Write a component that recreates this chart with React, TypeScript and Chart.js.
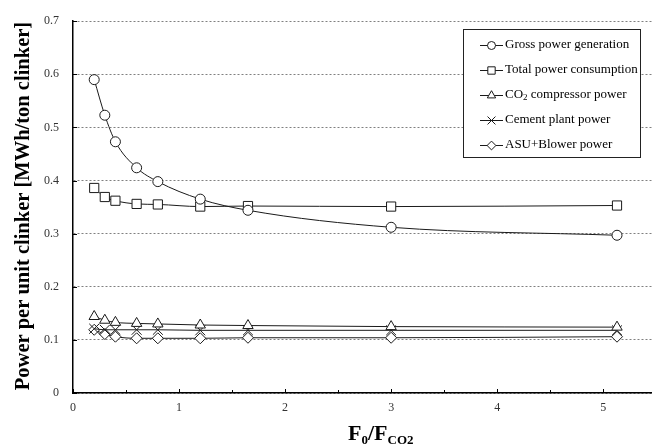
import React, { useEffect, useRef } from 'react';
import { Chart, registerables } from 'chart.js';

Chart.register(...registerables);

// ---- data ----
const xValues = [0.2, 0.3, 0.4, 0.6, 0.8, 1.2, 1.65, 3.0, 5.13];
const grossPower = [0.59, 0.523, 0.473, 0.424, 0.398, 0.365, 0.344, 0.312, 0.297];
const totalConsumption = [0.386, 0.369, 0.362, 0.356, 0.355, 0.351, 0.352, 0.351, 0.353];
const co2Compressor = [0.144, 0.137, 0.133, 0.131, 0.13, 0.128, 0.127, 0.125, 0.124];
const cementPlant = [0.121, 0.119, 0.119, 0.119, 0.119, 0.118, 0.118, 0.118, 0.118];
const asuBlower = [0.119, 0.111, 0.106, 0.103, 0.103, 0.103, 0.104, 0.104, 0.106];
const seriesLabels = [
  'Gross power generation',
  'Total power consumption',
  'CO2 compressor power',
  'Cement plant power',
  'ASU+Blower power',
];
const yTickValues = [0, 0.1, 0.2, 0.3, 0.4, 0.5, 0.6, 0.7];
const xTickValues = [0, 1, 2, 3, 4, 5];
const xMinorTicks = [0.5, 1.5, 2.5, 3.5, 4.5];
const yTitle = 'Power per unit clinker [MWh/ton clinker]';

const seriesValues = [grossPower, totalConsumption, co2Compressor, cementPlant, asuBlower];
const pointStyles = ['circle', 'rect', 'triangle', 'crossRot', 'rectRot'];
const pointRadii = [5, 6.5, 6, 7, 5.5];

const SERIF = "'Liberation Serif', 'Times New Roman', Times, serif";
const INK = '#1a1a1a';

type Part = { t: string; sub?: boolean };

function splitSub(label: string): Part[] {
  const i = label.indexOf('CO2');
  if (i < 0) return [{ t: label }];
  return [{ t: label.slice(0, i) + 'CO' }, { t: '2', sub: true }, { t: label.slice(i + 3) }];
}

function drawParts(
  ctx: CanvasRenderingContext2D,
  parts: Part[],
  x: number,
  y: number,
  mainFont: string,
  subFont: string,
  subShift: number
) {
  let cx = x;
  for (const p of parts) {
    ctx.font = p.sub ? subFont : mainFont;
    ctx.fillText(p.t, cx, p.sub ? y + subShift : y);
    cx += ctx.measureText(p.t).width;
  }
  return cx - x;
}

function drawMarker(ctx: CanvasRenderingContext2D, style: string, x: number, y: number, r: number) {
  ctx.beginPath();
  if (style === 'circle') {
    ctx.arc(x, y, r, 0, Math.PI * 2);
  } else if (style === 'rect') {
    const s = Math.SQRT1_2 * r;
    ctx.rect(x - s, y - s, 2 * s, 2 * s);
  } else if (style === 'triangle') {
    ctx.moveTo(x, y - r);
    ctx.lineTo(x + Math.sin((2 * Math.PI) / 3) * r, y - Math.cos((2 * Math.PI) / 3) * r);
    ctx.lineTo(x + Math.sin((4 * Math.PI) / 3) * r, y - Math.cos((4 * Math.PI) / 3) * r);
    ctx.closePath();
  } else if (style === 'rectRot') {
    ctx.moveTo(x - r, y);
    ctx.lineTo(x, y - r);
    ctx.lineTo(x + r, y);
    ctx.lineTo(x, y + r);
    ctx.closePath();
  } else if (style === 'crossRot') {
    const o = Math.SQRT1_2 * r;
    ctx.moveTo(x - o, y - o);
    ctx.lineTo(x + o, y + o);
    ctx.moveTo(x + o, y - o);
    ctx.lineTo(x - o, y + o);
  }
  if (style !== 'crossRot') {
    ctx.fillStyle = '#fff';
    ctx.fill();
  }
  ctx.stroke();
}

const overlayPlugin = {
  id: 'overlay',
  afterDraw(chart: any) {
    const ctx: CanvasRenderingContext2D = chart.ctx;
    const xs = chart.scales.x;
    const ys = chart.scales.y;
    const area = chart.chartArea;
    ctx.save();

    // inward ticks
    ctx.strokeStyle = '#000';
    ctx.lineWidth = 1;
    ctx.beginPath();
    xTickValues.forEach((v) => {
      const px = Math.round(xs.getPixelForValue(v)) + 0.5;
      ctx.moveTo(px, area.bottom);
      ctx.lineTo(px, area.bottom - 4);
    });
    xMinorTicks.forEach((v) => {
      const px = Math.round(xs.getPixelForValue(v)) + 0.5;
      ctx.moveTo(px, area.bottom);
      ctx.lineTo(px, area.bottom - 3);
    });
    yTickValues.forEach((v) => {
      const py = Math.round(ys.getPixelForValue(v)) + 0.5;
      ctx.moveTo(area.left, py);
      ctx.lineTo(area.left + 4, py);
    });
    ctx.stroke();

    // legend
    const bx = 463.5;
    const by = 29.5;
    const bw = 177;
    const bh = 128;
    ctx.fillStyle = '#fff';
    ctx.fillRect(bx, by, bw, bh);
    ctx.strokeStyle = '#222';
    ctx.lineWidth = 1;
    ctx.strokeRect(bx, by, bw, bh);
    seriesLabels.forEach((label, i) => {
      const ry = 45 + i * 25;
      ctx.strokeStyle = INK;
      ctx.lineWidth = 1;
      ctx.beginPath();
      ctx.moveTo(480, ry + 0.5);
      ctx.lineTo(503, ry + 0.5);
      ctx.stroke();
      drawMarker(ctx, pointStyles[i], 491.5, ry + 0.5, pointRadii[i] * 0.8);
      ctx.fillStyle = '#000';
      ctx.textAlign = 'left';
      ctx.textBaseline = 'middle';
      drawParts(ctx, splitSub(label), 505, ry, `13px ${SERIF}`, `9px ${SERIF}`, 3);
    });

    // y title
    ctx.save();
    ctx.translate(29, 206);
    ctx.rotate(-Math.PI / 2);
    ctx.fillStyle = '#000';
    ctx.font = `bold 20.5px ${SERIF}`;
    ctx.textAlign = 'center';
    ctx.textBaseline = 'alphabetic';
    ctx.fillText(yTitle, 0, 0);
    ctx.restore();

    // x title F0/FCO2
    ctx.fillStyle = '#000';
    ctx.textAlign = 'left';
    ctx.textBaseline = 'alphabetic';
    drawParts(
      ctx,
      [{ t: 'F' }, { t: '0', sub: true }, { t: '/F' }, { t: 'CO2', sub: true }],
      348,
      440,
      `bold 22px ${SERIF}`,
      `bold 13px ${SERIF}`,
      4
    );

    ctx.restore();
  },
};

export default function App() {
  const ref = useRef<HTMLCanvasElement>(null);
  useEffect(() => {
    document.body.style.margin = '0';
    const canvas = ref.current!;
    const chart = new Chart(canvas, {
      type: 'line',
      data: {
        datasets: seriesValues.map((vals, i) => ({
          label: seriesLabels[i],
          data: xValues.map((x, j) => ({ x, y: vals[j] })),
          borderColor: INK,
          borderWidth: 1,
          pointStyle: pointStyles[i] as any,
          pointRadius: pointRadii[i],
          pointBackgroundColor: i === 3 ? 'rgba(0,0,0,0)' : '#fff',
          pointBorderColor: INK,
          pointBorderWidth: 1,
          cubicInterpolationMode: 'monotone' as const,
          fill: false,
        })),
      },
      options: {
        animation: false,
        responsive: false,
        devicePixelRatio: 1,
        layout: { autoPadding: false, padding: { top: 13, right: 0, left: 0, bottom: 0 } },
        plugins: { legend: { display: false }, tooltip: { enabled: false } },
        scales: {
          x: {
            type: 'linear',
            min: 0,
            max: 5.46,
            afterFit: (s: any) => {
              s.height = 54;
            },
            afterBuildTicks: (s: any) => {
              s.ticks = xTickValues.map((v) => ({ value: v }));
            },
            grid: { display: false, drawTicks: false },
            border: { display: true, color: '#000', width: 1.5 },
            ticks: {
              font: { family: SERIF, size: 12 },
              color: '#333',
              padding: 8,
              maxRotation: 0,
              autoSkip: false,
            },
          },
          y: {
            type: 'linear',
            min: 0,
            max: 0.7,
            afterFit: (s: any) => {
              s.width = 73;
            },
            afterBuildTicks: (s: any) => {
              s.ticks = yTickValues.map((v) => ({ value: v }));
            },
            grid: {
              color: '#808080',
              lineWidth: 1,
              drawTicks: false,
            },
            border: { display: true, color: '#000', width: 1.5, dash: [2, 2] },
            ticks: {
              font: { family: SERIF, size: 12 },
              color: '#333',
              padding: 14,
              autoSkip: false,
              callback: (v: any) => String(Math.round(Number(v) * 10) / 10),
            },
          },
        },
      },
      plugins: [overlayPlugin],
    } as any);
    return () => chart.destroy();
  }, []);
  return (
    <div style={{ position: 'absolute', left: 0, top: 0, width: 652, height: 447, background: '#fff' }}>
      <canvas ref={ref} width={652} height={447} style={{ display: 'block' }} />
    </div>
  );
}
